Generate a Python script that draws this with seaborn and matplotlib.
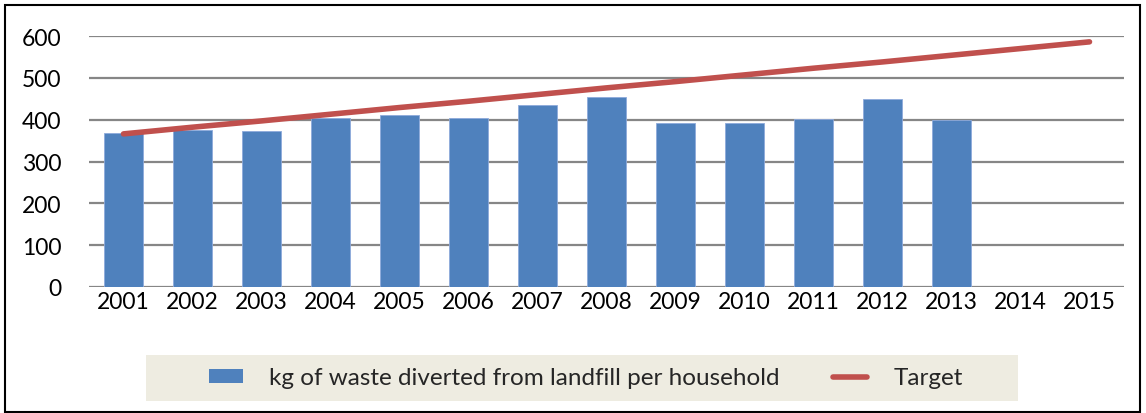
import matplotlib
matplotlib.use("Agg")
import matplotlib.pyplot as plt
import seaborn as sns
import pandas as pd
import numpy as np
from matplotlib.patches import Rectangle, Patch
from matplotlib.lines import Line2D

years = ["2001", "2002", "2003", "2004", "2005", "2006", "2007", "2008",
         "2009", "2010", "2011", "2012", "2013", "2014", "2015"]
diverted = [367, 375, 372, 404, 411, 404, 434, 455, 392, 391, 402, 450, 399,
            np.nan, np.nan]
target = [366, 382, 397, 413, 429, 444, 460, 476, 491, 507, 523, 538, 554, 570, 586]
bar_label = "kg of waste diverted from landfill per household"
line_label = "Target"

BLUE = "#4F81BD"
RED = "#C0504D"

sns.set_theme(style="white")
plt.rcParams["font.family"] = ["Lato", "DejaVu Sans"]

df = pd.DataFrame({"year": years, "diverted": diverted, "target": target})

fig = plt.figure(figsize=(11.46, 4.14), dpi=100)
ax = fig.add_axes([89 / 1146, 1 - 288 / 414, (1124 - 89) / 1146, (288 - 37) / 414])

sns.barplot(data=df, x="year", y="diverted", order=years, color=BLUE,
            width=0.56, saturation=1, ax=ax, edgecolor="#8EAADB", linewidth=0.6)
sns.lineplot(data=df, x="year", y="target", color=RED, linewidth=4,
             solid_capstyle="round", ax=ax, sort=False)

ax.set_ylim(0, 600)
ax.set_xlim(-0.5, 14.5)
ax.set_yticks([0, 100, 200, 300, 400, 500, 600])
ax.yaxis.grid(True, color="#868686", linewidth=1.6)
ax.set_axisbelow(True)
for s in ax.spines.values():
    s.set_visible(False)
ax.set_xlabel("")
ax.set_ylabel("")
ax.tick_params(axis="both", length=0, labelsize=16.5, colors="black")
ax.tick_params(axis="y", pad=20)
ax.tick_params(axis="x", pad=3)

# outer chart border
fig.patches.append(Rectangle((5 / 1146, 0.002), 1135 / 1146, 1 - 6 / 414 - 0.002,
                             transform=fig.transFigure, fill=False,
                             edgecolor="black", linewidth=1.5))
# legend background
fig.patches.append(Rectangle((146 / 1146, 1 - 402 / 414), 872 / 1146, 46 / 414,
                             transform=fig.transFigure, facecolor="#EEECE1",
                             edgecolor="none"))

handles = [Patch(facecolor=BLUE, edgecolor="none"),
           Line2D([0], [0], color=RED, linewidth=4)]
fig.legend(handles, [bar_label, line_label], loc="center",
           bbox_to_anchor=(586 / 1146, 1 - 379 / 414), ncol=2, frameon=False,
           fontsize=17.5, handlelength=1.4, handleheight=0.55,
           handletextpad=1.1, columnspacing=2.2)

fig.savefig("out.png", dpi=100)
